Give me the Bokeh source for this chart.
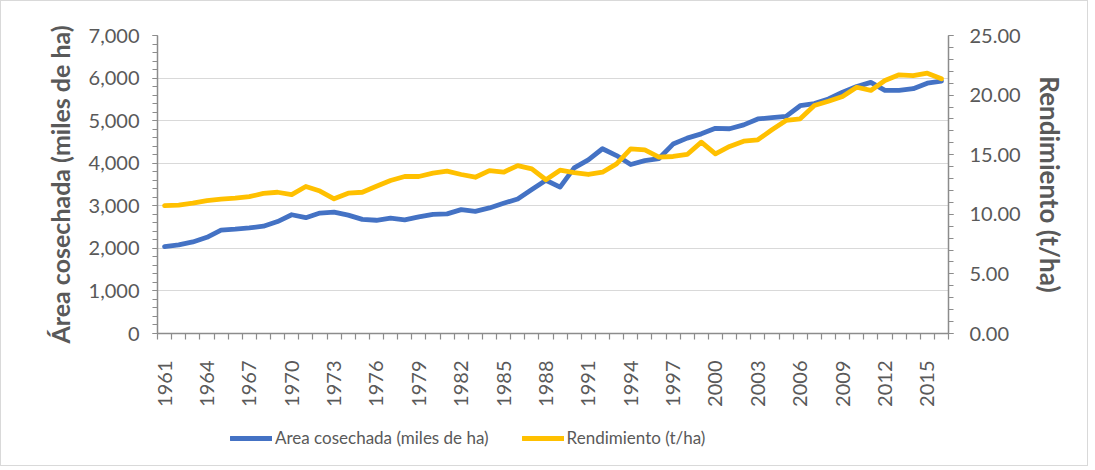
import math
from bokeh.plotting import figure
from bokeh.layouts import column
from bokeh.models import (Range1d, LinearAxis, FixedTicker, NumeralTickFormatter,
                          Legend, LegendItem, Grid, ColumnDataSource)
from bokeh.embed import file_html
from bokeh.resources import INLINE

# ---- data ----
years = list(range(1961, 2017))
area = [2040, 2080, 2150, 2260, 2430, 2450, 2480, 2520, 2630, 2790,
        2720, 2830, 2850, 2780, 2680, 2660, 2710, 2670, 2740, 2800,
        2810, 2910, 2870, 2950, 3060, 3160, 3380, 3600, 3440, 3890,
        4080, 4340, 4180, 3970, 4060, 4110, 4450, 4590, 4690, 4820,
        4810, 4900, 5040, 5070, 5100, 5350, 5400, 5510, 5670, 5800,
        5900, 5710, 5710, 5750, 5880, 5930]
rendimiento = [10.72, 10.77, 10.93, 11.15, 11.27, 11.35, 11.48, 11.75, 11.85, 11.65,
               12.33, 11.95, 11.30, 11.77, 11.85, 12.35, 12.83, 13.17, 13.17, 13.45,
               13.62, 13.34, 13.11, 13.67, 13.53, 14.09, 13.81, 12.90, 13.70, 13.50,
               13.34, 13.53, 14.23, 15.49, 15.40, 14.79, 14.85, 15.02, 16.05, 15.07,
               15.69, 16.13, 16.25, 17.09, 17.87, 18.01, 19.13, 19.49, 19.88, 20.66,
               20.39, 21.22, 21.70, 21.64, 21.84, 21.37]
tick_years = list(range(1961, 2016, 3))
left_ticks = [0, 1000, 2000, 3000, 4000, 5000, 6000, 7000]
right_ticks = [0, 5, 10, 15, 20, 25]
label_area = "Área cosechada (miles de ha)"
label_rend = "Rendimiento (t/ha)"
legend_area = "Area cosechada (miles de ha)"
legend_rend = "Rendimiento (t/ha)"

src = ColumnDataSource(dict(year=years, area=area, rend=rendimiento))
# one-row source for the legend keys (falls outside the legend strip's ranges)
key_src = ColumnDataSource(dict(year=years[:1], area=area[:1], rend=rendimiento[:1]))

FONT = "Lato"
TXT = "#595959"
AX = "#8C8C8C"
BLUE = "#4472C4"
GOLD = "#FFC000"
BORDER = "1px solid #D9D9D9"

p = figure(width=1088, height=410, output_backend="svg", toolbar_location=None,
           x_range=Range1d(1960.5, 2016.5), y_range=Range1d(0, 7000),
           x_axis_type=None, y_axis_type=None,
           min_border_left=156, min_border_right=141, min_border_top=34, min_border_bottom=78,
           background_fill_color="white", border_fill_color="white",
           outline_line_color=None)
p.styles = {"border": BORDER, "border-bottom": "none"}
p.extra_y_ranges = {"yield": Range1d(0, 25)}

left_ticker = FixedTicker(ticks=left_ticks, minor_ticks=list(range(0, 7001, 200)))
p.add_layout(Grid(dimension=1, ticker=left_ticker, grid_line_color="#D9D9D9", grid_line_width=1.2))


def style_axis(ax):
    ax.axis_line_color = AX
    ax.axis_line_width = 1.5
    ax.major_tick_line_color = AX
    ax.minor_tick_line_color = AX
    ax.major_tick_line_width = 1.2
    ax.minor_tick_line_width = 1.2
    ax.major_tick_in = 0
    ax.minor_tick_in = 0
    ax.major_label_text_font = FONT
    ax.major_label_text_font_size = "20px"
    ax.major_label_text_color = TXT
    ax.axis_label_text_font = FONT
    ax.axis_label_text_font_style = "bold"
    ax.axis_label_text_font_size = "26px"
    ax.axis_label_text_color = TXT


yl = LinearAxis(ticker=left_ticker, formatter=NumeralTickFormatter(format="0,0"),
                axis_label=label_area)
style_axis(yl)
yl.axis_label_text_font_size = "25px"
yl.major_tick_out = 5
yl.minor_tick_out = 5
yl.major_label_standoff = 13
yl.axis_label_standoff = 11
p.add_layout(yl, "left")

yr = LinearAxis(y_range_name="yield",
                ticker=FixedTicker(ticks=right_ticks, minor_ticks=list(range(0, 26))),
                formatter=NumeralTickFormatter(format="0.00"), axis_label=label_rend)
style_axis(yr)
yr.major_tick_out = 5
yr.minor_tick_out = 5
yr.major_label_standoff = 16
yr.axis_label_standoff = 10
p.add_layout(yr, "right")

xa = LinearAxis(ticker=FixedTicker(ticks=tick_years,
                                   minor_ticks=[y - 0.5 for y in years] + [years[-1] + 0.5]),
                major_label_orientation=math.pi / 2)
style_axis(xa)
xa.major_tick_out = 0
xa.minor_tick_out = 6
xa.major_label_standoff = 21
p.add_layout(xa, "below")

p.line("year", "area", source=src, line_color=BLUE, line_width=4.8,
       line_join="round", line_cap="round")
p.line("year", "rend", source=src, y_range_name="yield", line_color=GOLD,
       line_width=4.8, line_join="round", line_cap="round")

# ---- legend strip below the chart ----
p2 = figure(width=1088, height=56, output_backend="svg", toolbar_location=None,
            x_range=Range1d(0, 1), y_range=Range1d(0, 1),
            x_axis_type=None, y_axis_type=None, min_border=0,
            min_border_left=0, min_border_right=0, min_border_top=0, min_border_bottom=0,
            background_fill_color="white", border_fill_color="white",
            outline_line_color=None)
p2.styles = {"border": BORDER, "border-top": "none"}
p2.xgrid.visible = False
p2.ygrid.visible = False
k1 = p2.line("year", "area", source=key_src, line_color=BLUE, line_width=4.8, line_cap="round")
k2 = p2.line("year", "rend", source=key_src, line_color=GOLD, line_width=4.8, line_cap="round")

legend = Legend(items=[LegendItem(label=legend_area, renderers=[k1]),
                       LegendItem(label=legend_rend, renderers=[k2])],
                orientation="horizontal", location=(73, 18), padding=0, margin=0,
                spacing=33, glyph_width=42, glyph_height=20, label_standoff=3,
                border_line_color=None, background_fill_alpha=0,
                label_text_font=FONT, label_text_font_size="17px",
                label_text_color=TXT)
p2.add_layout(legend)

layout = column(p, p2, spacing=0)
open("out.html", "w").write(file_html(layout, INLINE))
